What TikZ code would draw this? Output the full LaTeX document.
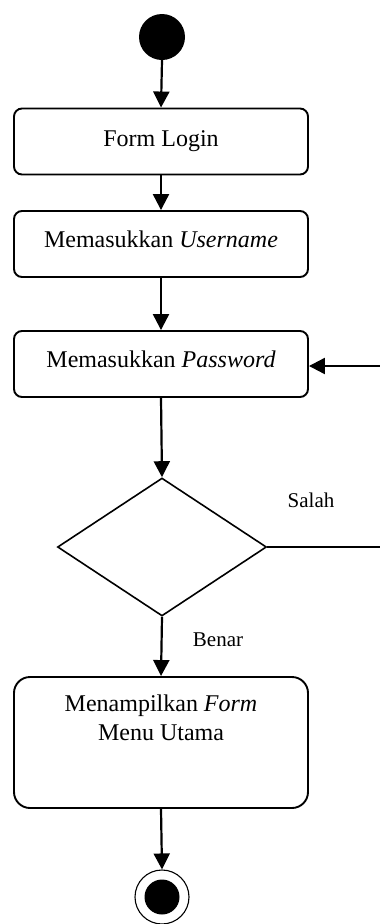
\documentclass[tikz,border=0pt]{standalone}
\usepackage{fontspec}
\setmainfont{Liberation Serif}
\usetikzlibrary{arrows.meta,shapes.geometric}

\tikzset{
  activity/.style={draw, line width=1.9pt, rounded corners=8pt,
    minimum width=294pt, minimum height=66pt, inner sep=0pt,
    font=\fontsize{24}{29}\selectfont},
  bigactivity/.style={activity, rounded corners=16pt, minimum height=131pt},
  flow/.style={line width=2.2pt, -{Triangle[length=16pt,width=16pt]}},
  plainflow/.style={line width=1.2pt},
  decision/.style={draw, line width=1.6pt, diamond, aspect=1.5,
    minimum width=209pt, minimum height=138pt, inner sep=0pt},
  guard/.style={font=\fontsize{21}{24}\selectfont},
}

\begin{document}
\begin{tikzpicture}[x=1pt,y=-1pt]
  \useasboundingbox (0,0) rectangle (380,924);

  % initial state
  \node[circle, fill=black, minimum size=46pt, inner sep=0pt] (start) at (162,37) {};

  % activities
  \node[activity] (login) at (161,141.5) {Form Login};
  \node[activity, text depth=10pt] (user) at (161,244) {Memasukkan \textit{Username}};
  \node[activity, text depth=10pt] (pass) at (161,364) {Memasukkan \textit{Password}};
  \node[decision] (check) at (162,547) {};
  \node[bigactivity] (menu) at (161,742.5) {};
  \node[font=\fontsize{24}{29}\selectfont, align=center, anchor=north] (menutext)
    at (161,691) {Menampilkan \textit{Form}\\Menu Utama};

  % final state
  \node[circle, draw, line width=1.1pt, minimum size=54pt, inner sep=0pt] (final) at (162,897) {};
  \node[circle, fill=black, minimum size=35pt, inner sep=0pt] (finaldot) at (final.center) {};

  % main flow
  \draw[flow] (start.south) -- (login.north);
  \draw[flow] (login.south) -- (user.north);
  \draw[flow] (user.south) -- (pass.north);
  \draw[flow] (pass.south) -- (check.north);
  \draw[flow] (check.south) -- (menu.north);
  \draw[flow] (menu.south) -- (final.north);

  % loop back when the password is wrong
  \coordinate (loopout) at (382,547);
  \coordinate (loopin) at (382,366);
  \draw[plainflow] (check.east) -- (loopout);
  \draw[flow] (loopin) -- (loopin -| pass.east);

  % guards
  \node[guard] (wrong) at (311,500) {Salah};
  \node[guard] (right) at (218,640) {Benar};
\end{tikzpicture}
\end{document}
